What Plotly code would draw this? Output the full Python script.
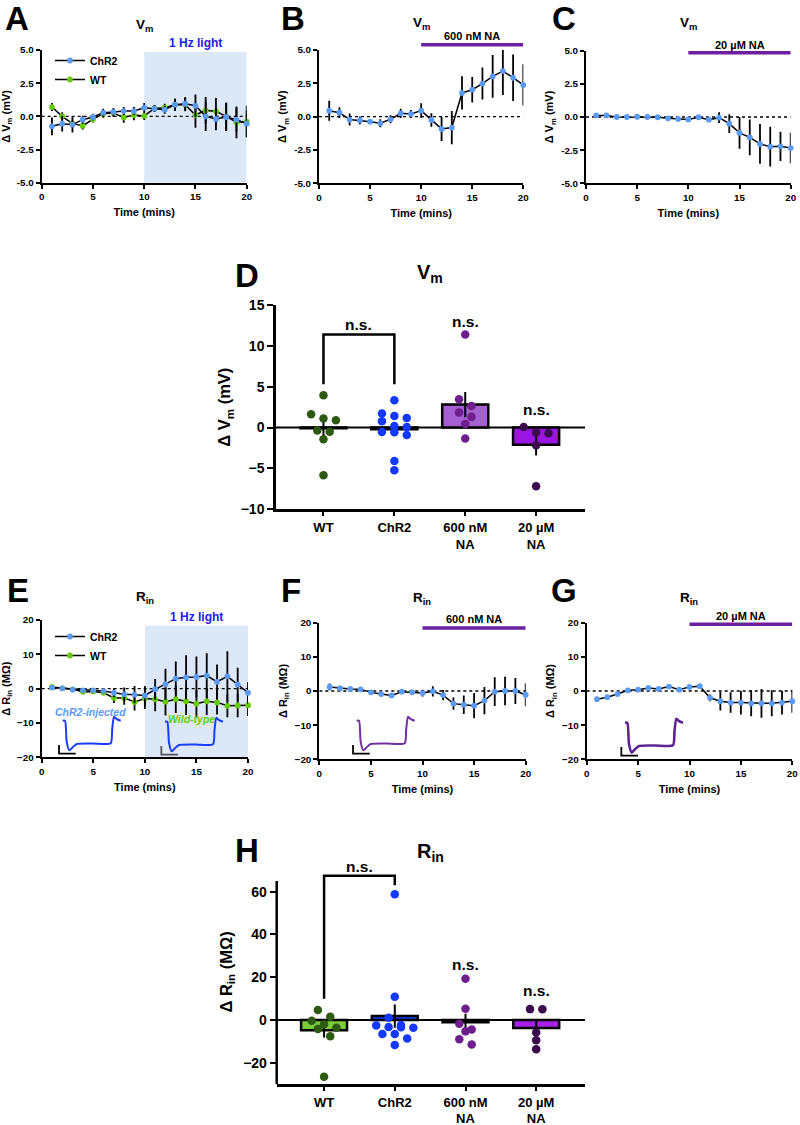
import numpy as np
import plotly.graph_objects as go

# ---------------- data ----------------
TIME_MIN = list(range(1, 21))

A_CHR2_MEAN = [-0.75, -0.55, -0.62, -0.25, -0.05, 0.28, 0.33, 0.40, 0.40, 0.65, 0.58, 0.50, 0.88, 0.95, 0.80, 0.00, -0.20, -0.05, -0.25, -0.55]
A_CHR2_SEM = [0.67, 0.60, 0.60, 0.30, 0.25, 0.30, 0.30, 0.30, 0.30, 0.35, 0.25, 0.30, 0.45, 0.50, 0.85, 1.10, 0.85, 1.05, 0.90, 1.00]
A_WT_MEAN = [0.70, 0.00, -0.55, -0.70, -0.22, 0.20, 0.25, -0.08, 0.10, 0.03, 0.60, 0.65, 0.88, 0.88, 0.10, 0.45, 0.38, 0.00, -0.45, -0.40]
A_WT_SEM = [0.30, 0.30, 0.30, 0.30, 0.25, 0.30, 0.30, 0.40, 0.40, 0.30, 0.25, 0.30, 0.45, 0.50, 0.95, 1.00, 1.00, 1.05, 1.20, 1.20]

B_MEAN = [0.45, 0.30, -0.22, -0.28, -0.38, -0.50, -0.20, 0.25, 0.20, 0.45, -0.25, -0.92, -0.82, 1.78, 2.02, 2.48, 3.02, 3.42, 2.92, 2.38]
B_SEM = [0.75, 0.40, 0.45, 0.30, 0.10, 0.30, 0.30, 0.35, 0.30, 0.55, 0.50, 0.90, 1.25, 1.25, 0.95, 1.20, 1.60, 1.80, 1.75, 1.55]

C_MEAN = [0.12, 0.12, 0.00, 0.00, 0.02, 0.00, -0.02, -0.10, -0.15, -0.18, -0.02, -0.20, -0.05, -0.50, -1.20, -1.53, -2.03, -2.24, -2.21, -2.34]
C_SEM = [0.10, 0.10, 0.05, 0.05, 0.05, 0.05, 0.10, 0.10, 0.10, 0.10, 0.10, 0.10, 0.40, 0.70, 1.20, 1.35, 1.50, 1.50, 1.10, 1.15]

E_CHR2_MEAN = [0.3, 0.1, -0.3, -0.5, -0.5, -0.7, -1.2, -1.65, -1.75, -2.0, -0.2, 1.3, 2.9, 3.3, 3.4, 3.8, 2.0, 3.6, 1.2, -1.2]
E_CHR2_SEM = [0.5, 0.5, 0.5, 0.5, 0.5, 0.6, 1.3, 2.0, 2.5, 2.8, 3.0, 4.5, 5.0, 6.4, 6.0, 6.5, 5.0, 7.3, 4.9, 3.1]
E_WT_MEAN = [0.5, 0.1, -0.2, -0.9, -0.8, -1.2, -2.7, -2.7, -3.9, -2.9, -3.1, -3.8, -3.1, -3.7, -4.4, -3.7, -4.0, -5.0, -4.9, -4.8]
E_WT_SEM = [0.5, 0.5, 0.5, 0.5, 0.5, 0.6, 1.5, 2.0, 2.5, 3.0, 3.5, 4.0, 4.0, 4.0, 4.0, 4.0, 3.5, 3.3, 3.4, 3.2]

F_MEAN = [1.2, 0.8, 0.6, 0.5, -0.4, -0.9, -1.3, -0.2, -0.4, -0.6, -0.1, -1.2, -3.7, -4.0, -4.3, -2.8, -0.2, 0.0, 0.0, -1.1]
F_SEM = [1.0, 0.5, 0.3, 0.3, 0.3, 0.3, 0.5, 0.5, 0.8, 1.0, 1.5, 1.5, 1.8, 2.7, 3.7, 4.0, 4.2, 4.2, 3.8, 3.4]

G_MEAN = [-2.4, -1.8, -0.9, 0.2, 0.4, 0.9, 0.6, 1.3, 0.4, 1.2, 1.4, -2.0, -3.0, -3.4, -3.4, -3.6, -3.6, -3.6, -3.4, -3.0]
G_SEM = [0.5, 0.5, 0.5, 0.5, 0.5, 0.5, 0.5, 0.5, 0.5, 0.5, 0.5, 1.0, 2.7, 3.0, 3.5, 3.8, 4.2, 3.8, 3.5, 3.4]

GROUPS = ["WT", "ChR2", "600 nM<br>NA", "20 \u00b5M<br>NA"]

D_WT = [3.96, 1.63, 0.90, 1.10, -0.50, -0.37, -1.43, -5.84]
D_CHR2 = [3.35, 1.43, 1.18, 1.71, 0.78, 0.08, 0.20, -0.53, -0.90, -0.57, -4.08, -5.22]
D_600 = [11.39, 3.47, 2.65, 1.31, 1.84, 0.45, -1.35]
D_20 = [-0.61, -0.69, 0.08, -2.16, -7.18]

H_WT = [4.7, 1.56, -2.0, -4.2, -3.6, -0.3, -7.6, -26.5]
H_CHR2 = [58.75, 10.9, 1.1, -2.3, -2.5, -3.3, -3.4, -3.6, -6.5, -6.5, -8.6, -11.7]
H_600 = [19.3, 5.3, -1.7, -4.4, -5.3, -9.0, -11.4]
H_20 = [5.0, 5.1, -5.8, -9.5, -13.7]

# significance brackets: (leg-left bottom, top, leg-right bottom)
D_BRACKET = (5.3, 11.4, 5.3)
H_BRACKET = (10.0, 67.5, 63.0)

# example voltage traces (inset), ms / mV
INSET_T_MS = [0, 14, 24, 40, 60, 84, 180, 288, 297, 308, 324, 348]
INSET_V_MV = [0, 0, -20, -28, -25, -22, -21.5, -21.3, -8, 3.8, 1.5, 0]
SCALE_MS = 100
SCALE_MV = 10

# ---------------- styling ----------------
W, H = 800, 1125
FONT = "Liberation Sans, Arial, sans-serif"
BLACK = "#000000"
LIGHT_BLUE_PT = "#5B9BF5"
GREEN_PT = "#66CC00"
LIGHT_BOX = "#DCE7F8"
PURPLE_BAR = "#6E1FA0"

fig = go.Figure()
layout = dict(
    width=W, height=H, margin=dict(l=0, r=0, t=0, b=0, pad=0, autoexpand=False),
    paper_bgcolor="white", plot_bgcolor="rgba(0,0,0,0)",
    font=dict(family=FONT, color=BLACK),
    showlegend=True,
)
shapes = []
annotations = []


def px_x(x):
    return x / W


def px_y(y):
    return 1 - y / H


def axis_common(fs):
    return dict(showline=True, linecolor=BLACK, linewidth=2, ticks="outside",
                ticklen=4, tickwidth=2, tickcolor=BLACK, showgrid=False,
                zeroline=False, automargin=False,
                tickfont=dict(family=FONT, size=fs, weight="bold"))


def ts_axes(n, x0, x1, ytop, ybot, yrange, ytickvals, yticktext, ytitle):
    xa = axis_common(9.8)
    xa.update(domain=[px_x(x0), px_x(x1)], anchor=f"y{n}", range=[0, 20],
              tickvals=[0, 5, 10, 15, 20],
              title=dict(text="<b>Time (mins)</b>", font=dict(size=11), standoff=7))
    ya = axis_common(9.8)
    ya.update(domain=[px_y(ybot), px_y(ytop)], anchor=f"x{n}", range=yrange,
              tickvals=ytickvals, ticktext=yticktext,
              title=dict(text=ytitle, font=dict(size=11), standoff=5))
    layout[f"xaxis{n}"] = xa
    layout[f"yaxis{n}"] = ya
    shapes.append(dict(type="line", xref=f"x{n}", yref=f"y{n}", x0=0, x1=20, y0=0, y1=0,
                       line=dict(color=BLACK, width=1.3, dash="dot"), layer="below"))


def add_series(n, mean, sem, color, name=None, legend=None):
    fig.add_trace(go.Scatter(
        x=TIME_MIN, y=mean, mode="lines+markers", name=name or "",
        showlegend=name is not None, legend=legend,
        xaxis=f"x{n}", yaxis=f"y{n}", cliponaxis=False,
        line=dict(color=BLACK, width=1.5),
        marker=dict(color=color, size=5.8, line=dict(width=0)),
        error_y=dict(type="data", array=sem, color=BLACK, thickness=1.8, width=0),
    ))


def title_at(text, x, y, size=13.5):
    annotations.append(dict(text=text, x=px_x(x), y=px_y(y), xref="paper", yref="paper",
                            showarrow=False, font=dict(size=size, family=FONT),
                            xanchor="center", yanchor="middle"))


def letter_at(text, x, y):
    annotations.append(dict(text=f"<b>{text}</b>", x=px_x(x), y=px_y(y), xref="paper",
                            yref="paper", showarrow=False,
                            font=dict(size=33, family=FONT), xanchor="center", yanchor="middle"))


def drug_bar(n, label, y_bar, y_text):
    shapes.append(dict(type="line", xref=f"x{n}", yref="paper", x0=10, x1=20,
                       y0=px_y(y_bar), y1=px_y(y_bar), line=dict(color=PURPLE_BAR, width=3.5)))
    annotations.append(dict(text=f"<b>{label}</b>", xref=f"x{n}", yref="paper", x=15,
                            y=px_y(y_text), showarrow=False, font=dict(size=11),
                            xanchor="center", yanchor="middle"))


def light_box(n, ytop_val, ybottom_val, y_text):
    shapes.append(dict(type="rect", xref=f"x{n}", yref=f"y{n}", x0=10, x1=20,
                       y0=ybottom_val, y1=ytop_val, fillcolor=LIGHT_BOX,
                       line=dict(width=0), layer="below"))
    annotations.append(dict(text="<b>1 Hz light</b>", xref=f"x{n}", yref="paper", x=15,
                            y=px_y(y_text), showarrow=False,
                            font=dict(size=12, color="#2020F0"),
                            xanchor="center", yanchor="middle"))


VM_TITLE = "<b>\u0394 V<sub>m</sub> (mV)</b>"
RIN_TITLE = "<b>\u0394 R<sub>in</sub> (M\u03a9)</b>"
VM_TICKS = [-5, -2.5, 0, 2.5, 5]
VM_TEXT = ["-5.0", "-2.5", "0.0", "2.5", "5.0"]
RIN_TICKS = [-20, -10, 0, 10, 20]

# ---------------- Panel A ----------------
light_box(1, 4.85, -5, 43)
ts_axes(1, 41.7, 246.7, 50, 182.7, [-5, 5], VM_TICKS, VM_TEXT, VM_TITLE)
add_series(1, A_WT_MEAN, A_WT_SEM, GREEN_PT, "WT", "legend")
add_series(1, A_CHR2_MEAN, A_CHR2_SEM, LIGHT_BLUE_PT, "ChR2", "legend")

# ---------------- Panel B ----------------
ts_axes(2, 319, 523.3, 50, 183.3, [-5, 5], VM_TICKS, VM_TEXT, VM_TITLE)
add_series(2, B_MEAN, B_SEM, LIGHT_BLUE_PT)
drug_bar(2, "600 nM NA", 44.7, 36)

# ---------------- Panel C ----------------
ts_axes(3, 586, 790.7, 50.7, 183.3, [-5, 5], VM_TICKS, VM_TEXT, VM_TITLE)
add_series(3, C_MEAN, C_SEM, LIGHT_BLUE_PT)
drug_bar(3, "20 \u00b5M NA", 52.7, 45)

# ---------------- Panel E ----------------
light_box(5, 18.4, -20, 617)
ts_axes(5, 41.7, 248, 620, 757.3, [-20, 20], RIN_TICKS, None, RIN_TITLE)
add_series(5, E_WT_MEAN, E_WT_SEM, GREEN_PT, "WT", "legend2")
add_series(5, E_CHR2_MEAN, E_CHR2_SEM, LIGHT_BLUE_PT, "ChR2", "legend2")

# ---------------- Panel F ----------------
ts_axes(6, 319.3, 525.7, 622.7, 759.3, [-20, 20], RIN_TICKS, None, RIN_TITLE)
add_series(6, F_MEAN, F_SEM, LIGHT_BLUE_PT)
drug_bar(6, "600 nM NA", 628, 619)

# ---------------- Panel G ----------------
ts_axes(7, 586.7, 792.3, 622.7, 759.3, [-20, 20], RIN_TICKS, None, RIN_TITLE)
add_series(7, G_MEAN, G_SEM, LIGHT_BLUE_PT)
drug_bar(7, "20 \u00b5M NA", 624.3, 616)

# legends for A and E
legend_style = dict(bgcolor="rgba(0,0,0,0)", borderwidth=0, font=dict(size=10.5, weight="bold"),
                    xanchor="left", yanchor="top", traceorder="reversed",
                    itemwidth=30, tracegroupgap=0)
layout["legend"] = dict(legend_style, x=px_x(50), y=px_y(46))
layout["legend2"] = dict(legend_style, x=px_x(50), y=px_y(622))

# ---------------- bar + scatter panels (D, H) ----------------
DOT_COLORS = ["#2D5A12", "#1438FF", "#6F1E8E", "#3B0B4D"]


def swarm_offsets(values, px_per_unit, diam_px=7.5, step=0.175):
    vals = np.asarray(values, dtype=float)
    order = np.argsort(-vals)
    offs = np.zeros(len(vals))
    group = []

    def flush(g):
        n = len(g)
        for i, idx in enumerate(g):
            offs[idx] = (i - (n - 1) / 2) * step

    for idx in order:
        if group and (vals[group[0]] - vals[idx]) * px_per_unit >= diam_px:
            flush(group)
            group = []
        group.append(idx)
    if group:
        flush(group)
    return offs


def bar_panel(n, x0, x1, ytop, ybot, yrange, ytickvals, ytitle, groups_data, bar_colors,
              px_per_unit, axis_top=None):
    means = [float(np.mean(g)) for g in groups_data]
    sems = [float(np.std(g, ddof=1) / np.sqrt(len(g))) for g in groups_data]
    xa = axis_common(13)
    xa.update(domain=[px_x(x0), px_x(x1)], anchor=f"y{n}", range=[-0.67, 3.69],
              tickvals=[0, 1, 2, 3], ticktext=[f"<b>{g}</b>" for g in GROUPS],
              linewidth=2.5, ticklen=4, tickwidth=2)
    ya = axis_common(14)
    ya.update(domain=[px_y(ybot), px_y(ytop)], anchor=f"x{n}", range=yrange,
              tickvals=ytickvals, linewidth=2.5, ticklen=6, tickwidth=2,
              title=dict(text=ytitle, font=dict(size=16.5), standoff=6))
    if axis_top is not None:
        ya["showline"] = False
        shapes.append(dict(type="line", xref=f"x{n} domain", yref=f"y{n}", x0=0, x1=0,
                           y0=yrange[0], y1=axis_top, line=dict(color=BLACK, width=2.5)))
    layout[f"xaxis{n}"] = xa
    layout[f"yaxis{n}"] = ya
    # zero line
    shapes.append(dict(type="line", xref=f"x{n} domain", yref=f"y{n}", x0=0, x1=1,
                       y0=0, y1=0, line=dict(color=BLACK, width=2), layer="below"))
    fig.add_trace(go.Bar(
        x=[0, 1, 2, 3], y=means, width=0.65, xaxis=f"x{n}", yaxis=f"y{n}",
        marker=dict(color=bar_colors, line=dict(color=BLACK, width=2.5)),
        error_y=dict(type="data", array=sems, color=BLACK, thickness=2, width=0),
        showlegend=False,
    ))
    for i, g in enumerate(groups_data):
        offs = swarm_offsets(g, px_per_unit)
        fig.add_trace(go.Scatter(
            x=i + offs, y=g, mode="markers", xaxis=f"x{n}", yaxis=f"y{n}",
            marker=dict(color=DOT_COLORS[i], size=8.5, line=dict(width=0)),
            showlegend=False, cliponaxis=False,
        ))


def bracket(n, br, text_y):
    fig.add_trace(go.Scatter(
        x=[0, 0, 1, 1], y=[br[0], br[1], br[1], br[2]], mode="lines",
        xaxis=f"x{n}", yaxis=f"y{n}", line=dict(color=BLACK, width=2.5),
        showlegend=False, hoverinfo="skip"))
    ns_at(n, 0.5, text_y)


def ns_at(n, x, y):
    annotations.append(dict(text="<b>n.s.</b>", xref=f"x{n}", yref=f"y{n}", x=x, y=y,
                            showarrow=False, font=dict(size=15.5), xanchor="center",
                            yanchor="middle"))


bar_panel(4, 276, 585, 305, 509.3, [-10, 15], [-10, -5, 0, 5, 10, 15],
          VM_TITLE, [D_WT, D_CHR2, D_600, D_20],
          ["#6BC13A", "#1A3CFF", "#A45FD0", "#9A15E0"], 8.17)
bracket(4, D_BRACKET, 12.6)
ns_at(4, 2, 13.0)
ns_at(4, 3, 2.2)

# H: y range extended to 75 so that the bracket label is inside; axis line drawn to 65
bar_panel(8, 276.7, 585, 859.6, 1084.2, [-30, 75], [-20, 0, 20, 40, 60],
          RIN_TITLE, [H_WT, H_CHR2, H_600, H_20],
          ["#7ACC3A", "#1A3CFF", "#6B2E8E", "#A51FE8"], 2.139, axis_top=65)
bracket(8, H_BRACKET, 71.6)
ns_at(8, 2, 26.0)
ns_at(8, 3, 13.6)

# ---------------- inset example traces ----------------
MS_PER_PX = 6.0
MV_PER_PX = 1 / 1.06


def inset(n, ax_px, ay_px, color, bar_color=BLACK, width=2):
    left, right, up, down = 12, 64, 9, 38
    layout[f"xaxis{n}"] = dict(domain=[px_x(ax_px - left), px_x(ax_px + right)],
                               range=[-left * MS_PER_PX, right * MS_PER_PX],
                               anchor=f"y{n}", visible=False, fixedrange=True,
                               automargin=False)
    layout[f"yaxis{n}"] = dict(domain=[px_y(ay_px + down), px_y(ay_px - up)],
                               range=[-down * MV_PER_PX, up * MV_PER_PX],
                               anchor=f"x{n}", visible=False, fixedrange=True,
                               automargin=False)
    fig.add_trace(go.Scatter(x=INSET_T_MS, y=INSET_V_MV, mode="lines",
                             xaxis=f"x{n}", yaxis=f"y{n}", showlegend=False,
                             line=dict(color=color, width=width, shape="spline", smoothing=0.6),
                             hoverinfo="skip"))
    cx, cy = -22, -31
    fig.add_trace(go.Scatter(x=[cx, cx, cx + SCALE_MS], y=[cy + SCALE_MV * 0.8, cy, cy],
                             mode="lines", xaxis=f"x{n}", yaxis=f"y{n}", showlegend=False,
                             line=dict(color=bar_color, width=1.8), hoverinfo="skip"))


inset(9, 62.7, 720.7, "#1A3CFF")
inset(10, 165, 721.7, "#1A3CFF", bar_color="#555555")
inset(11, 356.7, 720.7, "#7030A0")
inset(12, 625, 722.7, "#5E2390", width=2.6)

annotations.append(dict(text="<b><i>ChR2-injected</i></b>", x=px_x(90), y=px_y(711.7),
                        xref="paper", yref="paper", showarrow=False,
                        font=dict(size=10.5, color=LIGHT_BLUE_PT), xanchor="center", yanchor="middle"))
annotations.append(dict(text="<b><i>Wild-type</i></b>", x=px_x(191.7), y=px_y(719.3),
                        xref="paper", yref="paper", showarrow=False,
                        font=dict(size=10.5, color=GREEN_PT), xanchor="center", yanchor="middle"))

# ---------------- titles & letters ----------------
title_at("<b>V<sub>m</sub></b>", 144, 25)
title_at("<b>V<sub>m</sub></b>", 421, 23)
title_at("<b>V<sub>m</sub></b>", 688, 23)
title_at("<b>R<sub>in</sub></b>", 145, 597)
title_at("<b>R<sub>in</sub></b>", 422, 598)
title_at("<b>R<sub>in</sub></b>", 689, 598)
title_at("<b>V<sub>m</sub></b>", 430, 274, size=20)
title_at("<b>R<sub>in</sub></b>", 430, 852, size=20)

letter_at("A", 17, 18)
letter_at("B", 293, 18)
letter_at("C", 564, 18)
letter_at("D", 247, 275)
letter_at("E", 18, 590)
letter_at("F", 291, 590)
letter_at("G", 564, 590)
letter_at("H", 247, 850)

layout["shapes"] = shapes
layout["annotations"] = annotations
fig.update_layout(**layout)
fig.write_html("out.html",
               config={"displayModeBar": False},
               post_script="document.body.style.margin='0px';"
                           "document.body.style.padding='0px';"
                           "document.body.style.overflow='hidden';")
